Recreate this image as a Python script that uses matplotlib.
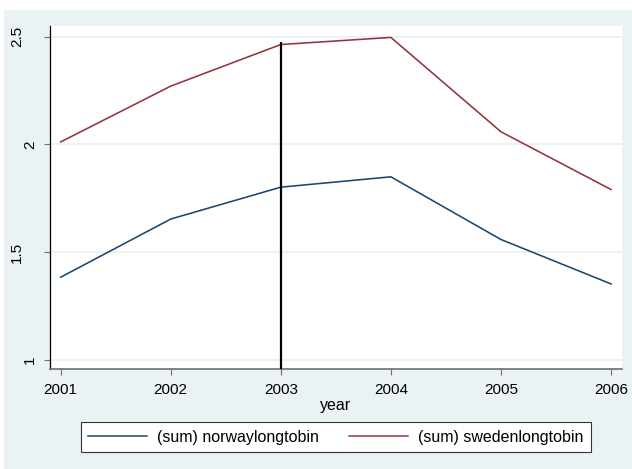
import matplotlib
matplotlib.use("Agg")
import matplotlib.pyplot as plt
from matplotlib.patches import Rectangle
from matplotlib.textpath import TextPath
from matplotlib.font_manager import FontProperties
import matplotlib.transforms as mtransforms

# ---- data ----
years = [2001, 2002, 2003, 2004, 2005, 2006]
norway = [1.384, 1.654, 1.802, 1.850, 1.559, 1.353]
sweden = [2.012, 2.271, 2.464, 2.497, 2.059, 1.791]
marker_year = 2003
marker_top = 2.477
ytick_vals = [1, 1.5, 2, 2.5]
ytick_labels = ["1", "1.5", "2", "2.5"]
series_labels = ["(sum) norwaylongtobin", "(sum) swedenlongtobin"]

# ---- style ----
FONT = "Liberation Sans"
FS_TICK = 11.0
FS_TEXT = 11.5
NAVY = "#1A476F"
MAROON = "#90353B"
BG = "#EAF2F3"
plt.rcParams["font.family"] = [FONT, "DejaVu Sans"]

W, H = 632, 469
fig = plt.figure(figsize=(W / 100, H / 100), dpi=100)
fig.patch.set_facecolor("white")
fig.patches.append(Rectangle((4 / W, 0), 1 - 4 / W, (H - 10) / H,
                             transform=fig.transFigure, facecolor=BG,
                             edgecolor="none", zorder=0))

left, right = 50 / W, 621.7 / W
bottom, top = (H - 369) / H, (H - 26) / H
ax = fig.add_axes([left, bottom, right - left, top - bottom])
ax.set_facecolor("white")
ax.set_zorder(1)

ax.set_xlim(2000.903, 2006.097)
ax.set_ylim(0.958, 2.55)

for v in ytick_vals:
    ax.axhline(v, color=BG, lw=1.4, zorder=1)

l1, = ax.plot(years, norway, color=NAVY, lw=1.15, zorder=3)
l2, = ax.plot(years, sweden, color=MAROON, lw=1.15, zorder=3)
ax.vlines(marker_year, ax.get_ylim()[0], marker_top, color="black",
          lw=1.6, zorder=4)

for s in ["top", "right"]:
    ax.spines[s].set_visible(False)
ax.spines["left"].set_color("black")
ax.spines["left"].set_linewidth(0.9)
ax.spines["bottom"].set_color("#6e6e6e")
ax.spines["bottom"].set_linewidth(1.2)

ax.set_xticks(years)
ax.set_xticklabels([str(y) for y in years], fontsize=FS_TICK)
ax.tick_params(axis="x", direction="out", length=4.5, width=0.8,
               color="#6e6e6e", pad=5.5)

# y ticks: marks only; labels drawn as rotated text set off by their width
ax.set_yticks(ytick_vals)
ax.set_yticklabels([])
ax.tick_params(axis="y", direction="out", length=4.5, width=0.8,
               color="#6e6e6e")
fp = FontProperties(family=FONT, size=FS_TICK)
for v, lab in zip(ytick_vals, ytick_labels):
    w_pt = TextPath((0, 0), lab, prop=fp).get_extents().width
    off = mtransforms.ScaledTranslation(-(4.5 + w_pt) / 72, 0,
                                        fig.dpi_scale_trans)
    tr = mtransforms.blended_transform_factory(ax.transAxes, ax.transData) + off
    ax.text(0, v, lab, rotation=90, ha="right", va="center",
            fontsize=FS_TICK, transform=tr, clip_on=False)

ax.set_xlabel("year", fontsize=FS_TEXT, labelpad=0.5)

leg = fig.legend([l1, l2], series_labels, ncol=2, mode="expand",
                 bbox_to_anchor=(80.7 / W, (H - 451.7) / H,
                                 510 / W, 30 / H),
                 loc="lower left", borderaxespad=0, fontsize=FS_TEXT,
                 handlelength=3.7, handletextpad=0.65, columnspacing=0.5,
                 fancybox=False, frameon=True, borderpad=0.45)
leg.get_frame().set_edgecolor("#333333")
leg.get_frame().set_linewidth(0.8)
leg.get_frame().set_facecolor("white")
leg.get_frame().set_alpha(1)
for ln in leg.get_lines():
    ln.set_linewidth(1.1)

fig.savefig("out.png", dpi=100)
